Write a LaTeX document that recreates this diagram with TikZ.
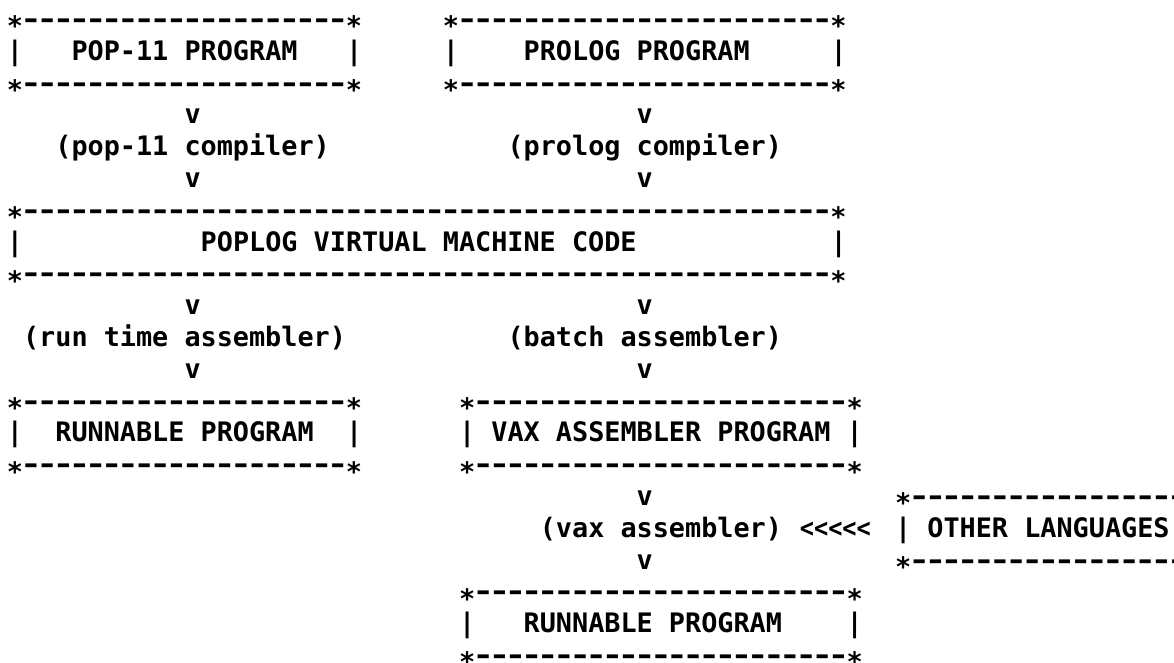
\documentclass[tikz,border=0pt]{standalone}
\usepackage{fontspec}
\setmonofont{DejaVu Sans Mono}
\usetikzlibrary{positioning}

\newcommand\typesize{\fontsize{13.41pt}{15.9pt}\selectfont}
\newcommand\strk{\raisebox{-0.27em}{*}}
\newcommand\dsh{\makebox[0.602em]{\scalebox{1.35}[1]{\makebox[0.42em]{-}}}}
\newcommand\dashrun[1]{\foreach \i in {1,...,#1}{\dsh}}

% a typed box: name, left column, top row, right column, text column, text
\newcommand\typedbox[6]{
  \pgfmathtruncatemacro\ndash{#4-#2-1}
  \node[typed] (#1-top) at (#2,#3) {\strk\dashrun{\ndash}\strk};
  \node[typed] (#1-l) at (#2,#3+1) {|};
  \node[typed] (#1) at (#5,#3+1) {#6};
  \node[typed] (#1-r) at (#4,#3+1) {|};
  \node[typed] (#1-bot) at (#2,#3+2) {\strk\dashrun{\ndash}\strk};
}

\begin{document}
\begin{tikzpicture}[x=8.075pt, y=-15.9pt,
   typed/.style={font=\ttfamily\bfseries\typesize, inner sep=0pt, outer sep=0pt,
     anchor=base west, xshift=-4.04pt, yshift=-4.3pt}]
\useasboundingbox (-0.929,-0.629) rectangle (71.77,20.22);
\clip (-0.929,-0.629) rectangle (71.77,20.22);

% source programs
\typedbox{pop}{0}{0}{21}{4}{POP-11 PROGRAM}
\typedbox{prolog}{27}{0}{51}{32}{PROLOG PROGRAM}
\node[typed] (popv1) at (11,3) {v};
\node[typed] (prov1) at (39,3) {v};
\node[typed] (popc) at (3,4) {(pop-11 compiler)};
\node[typed] (proc) at (31,4) {(prolog compiler)};
\node[typed] (popv2) at (11,5) {v};
\node[typed] (prov2) at (39,5) {v};

% virtual machine
\typedbox{pvm}{0}{6}{51}{12}{POPLOG VIRTUAL MACHINE CODE}
\node[typed] (runv1) at (11,9) {v};
\node[typed] (batv1) at (39,9) {v};
\node[typed] (runa) at (1,10) {(run time assembler)};
\node[typed] (bata) at (31,10) {(batch assembler)};
\node[typed] (runv2) at (11,11) {v};
\node[typed] (batv2) at (39,11) {v};

% outputs
\typedbox{run}{0}{12}{21}{3}{RUNNABLE PROGRAM}
\typedbox{vax}{28}{12}{52}{30}{VAX ASSEMBLER PROGRAM}
\node[typed] (vaxv1) at (39,15) {v};
\node[typed] (vaxa) at (33,16) {(vax assembler)};
\node[typed, anchor=base, xshift=0pt] (feed) at (51.3,16) {\scalebox{0.88}[1]{<<<<<}};
\node[typed] (vaxv2) at (39,17) {v};

% other languages, open to the right
\node[typed] (other-top) at (55,15) {\strk\dashrun{18}};
\node[typed] (other-l) at (55,16) {|};
\node[typed] (other) at (57,16) {OTHER LANGUAGES};
\node[typed] (other-bot) at (55,17) {\strk\dashrun{18}};

\typedbox{runb}{28}{18}{52}{32}{RUNNABLE PROGRAM}
\end{tikzpicture}
\end{document}
